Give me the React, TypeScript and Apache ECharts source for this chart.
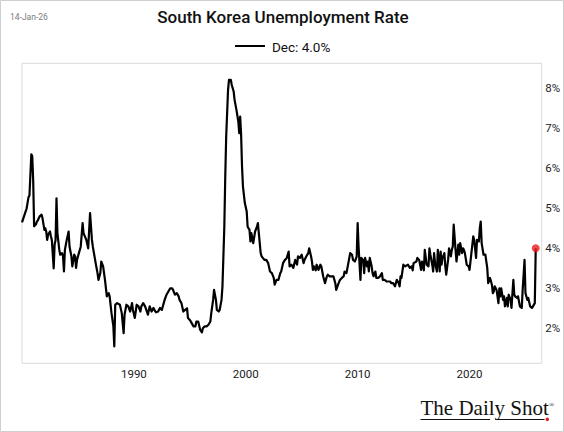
import React, { useEffect, useRef } from "react";
import * as echarts from "echarts";

// Monthly readings [YYYY-MM, unemployment rate %]
const d1980s: [string, number][] = [
  ["1980-01", 4.65], ["1980-06", 5.0], ["1980-08", 5.28], ["1980-09", 5.32], ["1980-11", 6.35], ["1980-12", 6.3],
  ["1981-01", 5.7], ["1981-02", 4.55], ["1981-04", 4.6], ["1981-05", 4.67], ["1981-06", 4.7], ["1981-08", 4.8], ["1981-10", 4.84], ["1981-11", 4.75],
  ["1982-01", 4.46], ["1982-02", 4.5], ["1982-03", 4.42], ["1982-04", 4.21], ["1982-05", 4.34], ["1982-07", 4.42], ["1982-08", 4.3], ["1982-09", 4.21], ["1982-11", 3.5], ["1982-12", 4.1],
  ["1983-01", 4.2], ["1983-02", 5.25], ["1983-03", 4.38], ["1983-05", 3.96], ["1983-06", 3.84], ["1983-08", 3.88], ["1983-09", 3.8], ["1983-10", 3.42], ["1983-11", 3.96],
  ["1984-01", 4.21], ["1984-03", 4.42], ["1984-04", 4.04], ["1984-06", 3.8], ["1984-07", 3.55], ["1984-09", 3.84], ["1984-10", 3.8], ["1984-11", 3.51], ["1984-12", 3.71],
  ["1985-02", 3.88], ["1985-04", 4.04], ["1985-06", 4.63], ["1985-07", 4.38], ["1985-10", 4.21], ["1985-12", 4.0],
  ["1986-02", 4.88], ["1986-04", 4.21], ["1986-05", 4.04], ["1986-08", 3.63], ["1986-10", 3.38], ["1986-11", 3.21],
  ["1987-01", 3.38], ["1987-02", 3.67], ["1987-04", 3.55], ["1987-06", 3.21], ["1987-08", 2.8], ["1987-10", 2.88], ["1987-11", 2.8],
  ["1988-01", 2.38], ["1988-03", 2.05], ["1988-04", 1.55], ["1988-05", 2.59], ["1988-07", 2.63], ["1988-10", 2.59], ["1988-12", 2.38],
  ["1989-02", 1.88], ["1989-03", 2.34], ["1989-05", 2.59], ["1989-07", 2.55], ["1989-09", 2.42], ["1989-11", 2.63], ["1989-12", 2.46],
];

const d1990s: [string, number][] = [
  ["1990-02", 2.26], ["1990-04", 2.59], ["1990-06", 2.55], ["1990-08", 2.42], ["1990-09", 2.55], ["1990-11", 2.63],
  ["1991-01", 2.55], ["1991-03", 2.42], ["1991-04", 2.34], ["1991-06", 2.55], ["1991-08", 2.42], ["1991-10", 2.51], ["1991-12", 2.42],
  ["1992-01", 2.4], ["1992-03", 2.42], ["1992-05", 2.51], ["1992-07", 2.46], ["1992-09", 2.63], ["1992-10", 2.71], ["1992-12", 2.84],
  ["1993-02", 2.92], ["1993-04", 3.0], ["1993-06", 3.0], ["1993-07", 2.96], ["1993-09", 2.84], ["1993-11", 2.88],
  ["1994-01", 2.8], ["1994-02", 2.71], ["1994-04", 2.63], ["1994-06", 2.42], ["1994-08", 2.46], ["1994-10", 2.5], ["1994-11", 2.26],
  ["1995-01", 2.21], ["1995-03", 2.13], ["1995-05", 2.05], ["1995-07", 2.05], ["1995-08", 2.17], ["1995-10", 2.17], ["1995-12", 1.97],
  ["1996-02", 1.9], ["1996-03", 2.0], ["1996-05", 2.05], ["1996-07", 2.05], ["1996-09", 2.09], ["1996-11", 2.17], ["1996-12", 2.38],
  ["1997-02", 2.71], ["1997-03", 2.96], ["1997-05", 2.71], ["1997-06", 2.46], ["1997-08", 2.42], ["1997-09", 2.46], ["1997-11", 2.71], ["1997-12", 3.05],
  ["1998-02", 4.54], ["1998-03", 5.79], ["1998-04", 6.79], ["1998-06", 7.96], ["1998-07", 8.21], ["1998-09", 8.21], ["1998-10", 8.08], ["1998-12", 7.92],
  ["1999-01", 7.71], ["1999-03", 7.46], ["1999-05", 7.17], ["1999-06", 6.88], ["1999-07", 7.29], ["1999-08", 6.84], ["1999-09", 6.04], ["1999-10", 5.54], ["1999-12", 5.13],
];

const d2000s: [string, number][] = [
  ["2000-02", 4.92], ["2000-03", 4.54], ["2000-05", 4.46], ["2000-06", 4.17], ["2000-07", 4.38], ["2000-09", 4.13], ["2000-11", 4.42],
  ["2001-01", 4.54], ["2001-02", 4.63], ["2001-03", 4.38], ["2001-05", 3.88], ["2001-06", 3.8], ["2001-09", 3.71], ["2001-11", 3.71],
  ["2002-01", 3.63], ["2002-03", 3.42], ["2002-05", 3.38], ["2002-07", 3.26], ["2002-08", 3.09], ["2002-10", 3.21], ["2002-12", 3.21],
  ["2003-02", 3.38], ["2003-03", 3.42], ["2003-05", 3.63], ["2003-07", 3.71], ["2003-09", 3.76], ["2003-11", 3.92], ["2003-12", 3.55],
  ["2004-02", 3.59], ["2004-04", 3.51], ["2004-06", 3.71], ["2004-08", 3.59], ["2004-09", 3.8], ["2004-11", 3.76],
  ["2005-01", 3.84], ["2005-03", 3.63], ["2005-04", 3.71], ["2005-06", 3.8], ["2005-08", 3.88], ["2005-09", 4.0], ["2005-11", 3.8], ["2005-12", 3.67],
  ["2006-01", 3.46], ["2006-02", 3.55], ["2006-04", 3.45], ["2006-05", 3.59], ["2006-07", 3.46], ["2006-09", 3.59], ["2006-10", 3.55], ["2006-12", 3.3],
  ["2007-02", 3.13], ["2007-04", 3.3], ["2007-05", 3.34], ["2007-07", 3.3], ["2007-11", 3.3],
  ["2008-01", 3.13], ["2008-02", 2.96], ["2008-04", 3.09], ["2008-06", 3.21], ["2008-08", 3.26], ["2008-10", 3.3], ["2008-11", 3.42],
  ["2009-01", 3.38], ["2009-03", 3.63], ["2009-05", 3.88], ["2009-07", 3.84], ["2009-08", 3.71], ["2009-10", 3.67], ["2009-12", 3.8],
];

const d2010s: [string, number][] = [
  ["2010-01", 4.63], ["2010-02", 4.04], ["2010-03", 3.63], ["2010-04", 3.21], ["2010-05", 3.76], ["2010-07", 3.71], ["2010-08", 3.38], ["2010-09", 3.76], ["2010-11", 3.55], ["2010-12", 3.67],
  ["2011-01", 3.42], ["2011-02", 3.76], ["2011-04", 3.55], ["2011-05", 3.38], ["2011-06", 3.3], ["2011-08", 3.42], ["2011-09", 3.26], ["2011-11", 3.26],
  ["2012-01", 3.3], ["2012-03", 3.38], ["2012-04", 3.21], ["2012-06", 3.21], ["2012-08", 3.17], ["2012-12", 3.17],
  ["2013-01", 3.13], ["2013-03", 3.13], ["2013-05", 3.05], ["2013-07", 3.21], ["2013-09", 3.13], ["2013-10", 3.05], ["2013-11", 3.3], ["2013-12", 3.26],
  ["2014-02", 3.59], ["2014-04", 3.55], ["2014-07", 3.59], ["2014-09", 3.51], ["2014-11", 3.55], ["2014-12", 3.45],
  ["2015-01", 3.63], ["2015-04", 3.67], ["2015-05", 3.76], ["2015-07", 3.71], ["2015-09", 3.46], ["2015-10", 3.67], ["2015-12", 3.45],
  ["2016-01", 3.96], ["2016-03", 3.59], ["2016-05", 3.55], ["2016-06", 4.0], ["2016-07", 3.84], ["2016-09", 3.59], ["2016-10", 3.42], ["2016-11", 3.88], ["2016-12", 3.63],
  ["2017-02", 3.42], ["2017-03", 3.96], ["2017-05", 3.42], ["2017-06", 3.92], ["2017-07", 3.59], ["2017-08", 3.76], ["2017-10", 3.88], ["2017-11", 3.55], ["2017-12", 3.34],
  ["2018-02", 3.71], ["2018-03", 4.0], ["2018-05", 3.8], ["2018-06", 3.96], ["2018-07", 4.04], ["2018-08", 4.59], ["2018-10", 3.96], ["2018-11", 3.67],
  ["2019-01", 4.09], ["2019-02", 3.84], ["2019-03", 4.13], ["2019-05", 3.88], ["2019-06", 4.0], ["2019-07", 3.96], ["2019-08", 3.88], ["2019-10", 3.59], ["2019-12", 3.55],
];

const d2020s: [string, number][] = [
  ["2020-01", 3.46], ["2020-03", 3.88], ["2020-05", 4.3], ["2020-06", 4.21], ["2020-08", 3.76], ["2020-09", 4.21], ["2020-11", 4.17], ["2020-12", 4.5],
  ["2021-01", 4.67], ["2021-02", 4.13], ["2021-04", 3.84], ["2021-06", 3.84], ["2021-07", 3.67], ["2021-08", 3.51], ["2021-09", 3.13], ["2021-11", 3.26],
  ["2022-01", 3.09], ["2022-02", 2.88], ["2022-03", 2.92], ["2022-04", 3.05], ["2022-06", 2.96], ["2022-08", 2.63], ["2022-09", 3.0], ["2022-10", 2.8], ["2022-11", 3.0],
  ["2023-01", 2.71], ["2023-02", 2.8], ["2023-03", 2.55], ["2023-05", 2.76], ["2023-06", 2.55], ["2023-07", 2.84], ["2023-09", 2.71], ["2023-10", 2.51], ["2023-12", 3.21],
  ["2024-01", 2.84], ["2024-02", 2.8], ["2024-04", 2.76], ["2024-05", 2.8], ["2024-07", 2.55], ["2024-09", 2.51], ["2024-10", 2.96], ["2024-12", 3.71],
  ["2025-01", 2.88], ["2025-03", 2.71], ["2025-04", 2.76], ["2025-06", 2.55], ["2025-08", 2.51], ["2025-09", 2.55], ["2025-11", 2.63], ["2025-12", 4.0],
];

const xTickYears = [1990, 2000, 2010, 2020];
const yTickValues = [2, 3, 4, 5, 6, 7, 8];
const titleText = "South Korea Unemployment Rate";
const dateStamp = "14-Jan-26";

const toYear = (m: string) => {
  const [y, mo] = m.split("-").map(Number);
  return y + (mo - 1) / 12;
};

export default function App() {
  const ref = useRef<HTMLDivElement>(null);
  useEffect(() => {
    document.body.style.margin = "0";
    const chart = echarts.init(ref.current!, null, { renderer: "svg" });
    const all = [...d1980s, ...d1990s, ...d2000s, ...d2010s, ...d2020s];
    const lineData = all.map(([m, v]) => [toYear(m), v]);
    const last = lineData[lineData.length - 1];
    const lastMonth = all[all.length - 1][0];
    const monthNames = ["Jan", "Feb", "Mar", "Apr", "May", "Jun", "Jul", "Aug", "Sep", "Oct", "Nov", "Dec"];
    const legendText = `${monthNames[Number(lastMonth.split("-")[1]) - 1]}: ${last[1].toFixed(1)}%`;
    const font = "Roboto, 'Noto Sans', sans-serif";
    const serif = "'Liberation Serif', 'DejaVu Serif', serif";

    chart.setOption({
      animation: false,
      backgroundColor: "#ffffff",
      grid: {
        left: 22,
        right: 22.3,
        top: 63.3,
        bottom: 68.7,
        show: true,
        borderColor: "#dadada",
        borderWidth: 1,
        backgroundColor: "transparent",
      },
      xAxis: {
        type: "value",
        min: 1980,
        max: 2026.45,
        interval: 10,
        axisLine: { show: false },
        axisTick: { show: false },
        splitLine: { show: false },
        axisLabel: {
          showMaxLabel: false,
          showMinLabel: false,
          margin: 5,
          fontSize: 11.5,
          color: "#222",
          fontFamily: font,
          formatter: (v: number) => (xTickYears.includes(Math.round(v * 1000) / 1000) ? String(v) : ""),
        },
      },
      yAxis: {
        type: "value",
        position: "right",
        min: 1.126,
        max: 8.624,
        splitNumber: 7,
        axisLine: { show: false },
        axisTick: { show: false },
        splitLine: { show: false },
        axisLabel: {
          showMaxLabel: false,
          showMinLabel: false,
          margin: 3.5,
          fontSize: 11.5,
          color: "#222",
          fontFamily: font,
          formatter: (v: number) => {
            const r = Math.round(v * 1000) / 1000;
            return yTickValues.includes(r) ? `${r}%` : "";
          },
        },
      },
      series: [
        {
          type: "line",
          name: legendText,
          data: lineData,
          showSymbol: false,
          lineStyle: { color: "#000", width: 2.2, join: "round" },
          itemStyle: { color: "#000" },
          z: 3,
        },
        {
          type: "scatter",
          data: [last],
          symbolSize: 8,
          itemStyle: { color: "#ee1c1c" },
          z: 4,
        },
      ],
      graphic: [
        {
          type: "rect",
          shape: { x: 0.5, y: 0.5, width: 563, height: 431 },
          style: { fill: "none", stroke: "#cfcfcf", lineWidth: 1 },
          silent: true,
        },
        {
          type: "text",
          left: 10,
          top: 12,
          style: { text: dateStamp, fontSize: 8.5, fill: "#7a7a7a", fontFamily: font },
        },
        {
          type: "text",
          x: 283,
          y: 17,
          style: {
            text: titleText,
            fontSize: 17,
            fontWeight: 500,
            fill: "#111",
            fontFamily: font,
            align: "center",
            verticalAlign: "middle",
          },
        },
        {
          type: "line",
          shape: { x1: 235, y1: 46, x2: 265, y2: 46 },
          style: { stroke: "#000", lineWidth: 2 },
        },
        {
          type: "text",
          x: 272,
          y: 46.5,
          style: {
            text: legendText,
            fontSize: 13.5,
            fill: "#111",
            fontFamily: font,
            align: "left",
            verticalAlign: "middle",
          },
        },
        {
          type: "text",
          x: 420.5,
          y: 408,
          style: {
            text: "The Daily Shot",
            fontSize: 21,
            fill: "#111",
            fontFamily: serif,
            align: "left",
            verticalAlign: "middle",
          },
        },
        {
          type: "line",
          shape: { x1: 420.5, y1: 419.5, x2: 490, y2: 419.5 },
          style: { stroke: "#111", lineWidth: 1 },
        },
        {
          type: "line",
          shape: { x1: 497, y1: 419.5, x2: 544.5, y2: 419.5 },
          style: { stroke: "#111", lineWidth: 1 },
        },
        {
          type: "circle",
          shape: { cx: 547.3, cy: 419.3, r: 1.8 },
          style: { fill: "#e31a1c" },
        },
        {
          type: "text",
          x: 551.7,
          y: 405,
          style: {
            text: "®",
            fontSize: 7,
            fill: "#111",
            fontFamily: serif,
            align: "center",
            verticalAlign: "middle",
          },
        },
      ],
    });
    return () => chart.dispose();
  }, []);
  return (
    <div
      ref={ref}
      style={{ position: "absolute", left: 0, top: 0, width: 564, height: 432, background: "#fff" }}
    />
  );
}
